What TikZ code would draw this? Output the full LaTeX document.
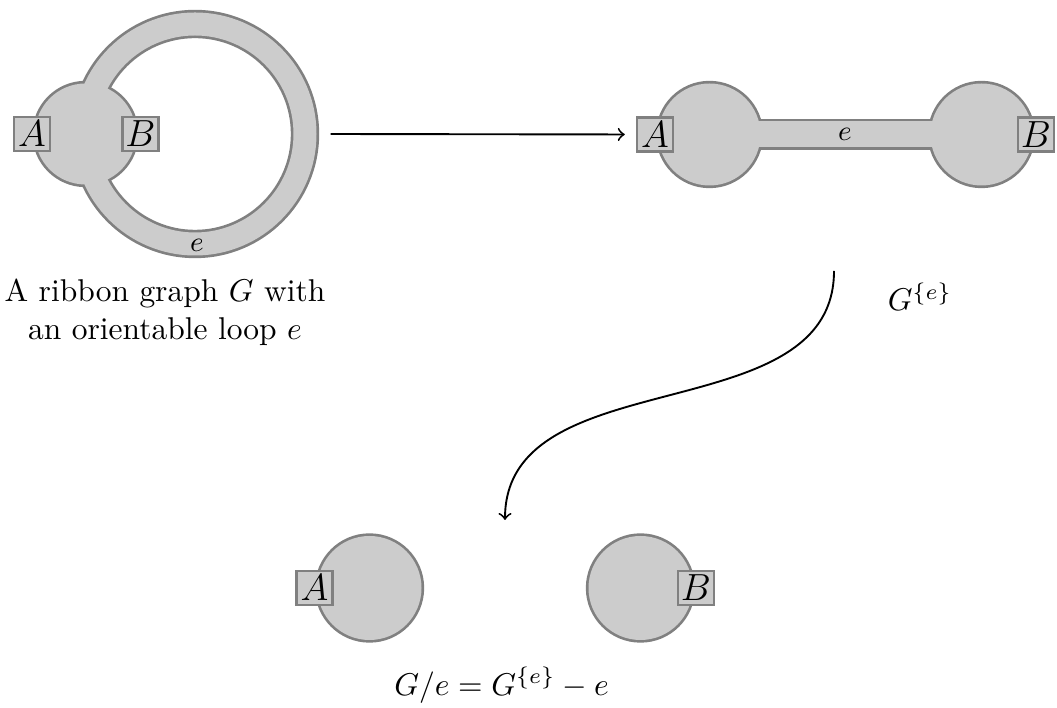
\documentclass[tikz,border=0pt]{standalone}
\usepackage{amsmath}
\usepackage{amssymb}
\usepackage{tikz}

\tikzset{
    rim/.style={draw=gray, line width=1.7pt},
    ribbon/.style={fill=gray!40},
    halfedge/.style={draw=gray, thick, fill=gray!40, rectangle, inner sep=0pt,
        minimum width=11.4pt, minimum height=10.9pt, font=\large},
    edgelabel/.style={font=\small},
    move/.style={->, semithick}
}

\begin{document}
\begin{tikzpicture}[x=0.3175pt, y=-0.3175pt]
    \useasboundingbox (0,0) rectangle (1057,708);

    % Draw G: one vertex and an orientable loop
    \draw[rim] (85.5,134) circle (50.5);
    \draw[rim] (195,134) circle (121.5);
    \draw[rim] (195,134) circle (98.5);
    \fill[ribbon, even odd rule] (195,134) circle (121.5) (195,134) circle (98.5);
    \fill[ribbon] (85.5,134) circle (50.5);
    \node[halfedge] (A1) at (32,134) {$A$};
    \node[halfedge] (B1) at (140.5,134) {$B$};
    \node[edgelabel] (e1) at (197,245) {$e$};
    \coordinate (loopE) at (318,134);

    % Draw G^{e}: two vertices joined by e
    \draw[rim] (709.5,134.5) circle (51);
    \draw[rim] (981.5,134.5) circle (51);
    \draw[rim] (709.5,121.5) rectangle (981.5,147.5);
    \fill[ribbon] (709.5,121.5) rectangle (981.5,147.5);
    \fill[ribbon] (709.5,134.5) circle (51) (981.5,134.5) circle (51);
    \node[halfedge] (A2) at (655,134.5) {$A$};
    \node[halfedge] (B2) at (1036,134.5) {$B$};
    \node[edgelabel] (e2) at (845,134) {$e$};

    % Draw G/e: two vertices, no edge
    \draw[rim] (369.5,588) circle (52);
    \draw[rim] (640.5,588) circle (52);
    \fill[ribbon] (369.5,588) circle (52) (640.5,588) circle (52);
    \node[halfedge] (A3) at (314.5,588) {$A$};
    \node[halfedge] (B3) at (696,588) {$B$};

    % Captions
    \node[align=center] (capG) at (165,312) {A ribbon graph $G$ with\\an orientable loop $e$};
    \node (capPd) at (920,297) {$G^{\{e\}}$};
    \node (capCon) at (501.5,685) {$G/e = G^{\{e\}} - e$};

    % Arrows
    \coordinate (pdOut) at (834,271);
    \coordinate (conIn) at (505,520);
    \draw[move, shorten <=4pt, shorten >=3.5pt] (loopE) -- (A2.west);
    \draw[move] (pdOut) to[out=-90, in=90] (conIn);
\end{tikzpicture}
\end{document}
